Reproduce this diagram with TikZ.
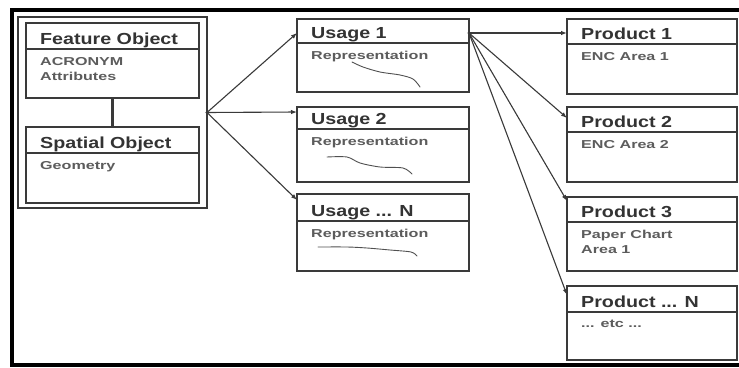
\documentclass[tikz,border=0pt]{standalone}
\usepackage{fontspec}
\setmainfont{Liberation Sans}
\newfontfamily\ttlfont[FakeStretch=1.23]{Liberation Sans}
\newfontfamily\bodyfont[FakeStretch=1.4]{Liberation Sans}
\usetikzlibrary{arrows.meta,calc}
\definecolor{ink}{HTML}{3A3A3A}
\definecolor{titlegray}{HTML}{333333}
\definecolor{bodygray}{HTML}{5C5C5C}
\definecolor{scribble}{HTML}{505050}

\tikzset{
  frame/.style={line width=3.6pt, black},
  classbox/.style={draw=ink, line width=1.6pt, rectangle, inner sep=0pt, outer sep=0pt, anchor=north west},
  groupbox/.style={draw=ink, line width=1.6pt, rectangle, inner sep=0pt, outer sep=0pt, anchor=north west},
  divider/.style={draw=ink, line width=1.2pt},
  titletext/.style={anchor=base west, inner sep=0pt, text=titlegray, font=\ttlfont\bfseries\fontsize{16}{18}\selectfont},
  bodytext/.style={anchor=north west, inner sep=0pt, align=left, text=bodygray, font=\bodyfont\bfseries\fontsize{11.5}{15}\selectfont},
  link/.style={draw=ink, line width=1.1pt},
  arrowlink/.style={link, -{Latex[length=6pt,width=4.5pt]}},
  squiggle/.style={draw=scribble, line width=0.9pt, line cap=round},
}

% box with a title compartment and a body compartment
% #1 name, #2 x, #3 y, #4 width, #5 height, #6 title compartment height, #7 title, #8 body
\newcommand\classnode[8]{%
  \node[classbox, minimum width=#4pt, minimum height=#5pt] (#1) at (#2,#3) {};
  \draw[divider] ([yshift=-#6pt]#1.north west) -- ([yshift=-#6pt]#1.north east);
  \node[titletext] (#1-title) at ([xshift=14pt,yshift={-(#6pt-5pt)}]#1.north west) {#7};
  \node[bodytext] (#1-body) at ([xshift=14pt,yshift={-(#6pt+8pt)}]#1.north west) {#8};
}

\begin{document}
\begin{tikzpicture}[x=1pt,y=-1pt]
\useasboundingbox (0,0) rectangle (739,367);
\fill[white] (0,0) rectangle (739,367);

% outer frame (open on the right)
\draw[frame] (739,10) -- (12,10) -- (12,365) -- (739,365);

% grouping box around feature and spatial objects
\node[groupbox, minimum width=189pt, minimum height=191pt] (group) at (18,17) {};
\classnode{feature}{26}{23}{173}{75}{26}{Feature Object}{ACRONYM\\Attributes}
\classnode{spatial}{26}{127}{173}{76}{26}{Spatial Object}{Geometry}
\draw[ink, line width=2.6pt] (feature.south) -- (spatial.south |- spatial.north);

% usages
\classnode{use1}{297}{19}{172}{73}{24}{Usage 1}{Representation}
\classnode{use2}{297}{107}{172}{75}{22}{Usage 2}{Representation}
\classnode{useN}{297}{194}{172}{77}{27}{Usage ... N}{Representation}

% products
\classnode{prod1}{567}{19}{170}{75}{25}{Product 1}{ENC Area 1}
\classnode{prod2}{567}{107}{170}{75}{25}{Product 2}{ENC Area 2}
\classnode{prod3}{567}{197}{170}{74}{25}{Product 3}{Paper Chart\\Area 1}
\classnode{prodN}{567}{286}{170}{74}{26}{Product ... N}{... etc ...}

% hand-drawn strokes under "Representation"
\draw[squiggle] plot[smooth] coordinates {(352,62) (363,67) (380,72) (400,75) (413,79) (420,87)};
\draw[squiggle] plot[smooth] coordinates {(327,157) (347,157) (360,163) (380,167) (403,168) (412,174)};
\draw[squiggle] plot[smooth] coordinates {(318,247) (347,247) (367,248) (390,250) (411,252) (417,256)};

% links from the grouping box to the usages
\coordinate (fan) at (group.east);
\fill[ink] (fan) circle (1.6pt);
\draw[arrowlink] (fan) -- ([yshift=-14pt]use1.north west);
\draw[arrowlink] (fan) -- ([yshift=-5pt]use2.north west);
\draw[arrowlink] (fan) -- ([yshift=-6pt]useN.north west);

% links from the first usage to the products
\coordinate (spread) at ([yshift=-14pt]use1.north east);
\fill[ink] (spread) circle (1.6pt);
\draw[arrowlink] (spread) -- ([yshift=-14pt]prod1.north west);
\draw[arrowlink] (spread) -- ([yshift=-11pt]prod2.north west);
\draw[arrowlink] (spread) -- ([yshift=-4pt]prod3.north west);
\draw[arrowlink] (spread) -- ([yshift=-9pt]prodN.north west);
\end{tikzpicture}
\end{document}
